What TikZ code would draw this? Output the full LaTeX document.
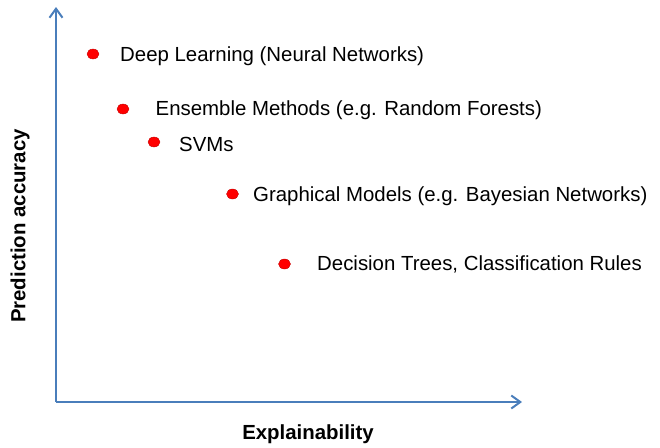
\documentclass[tikz,border=0pt]{standalone}
\usepackage{fontspec}
\setmainfont{Liberation Sans}
\usetikzlibrary{arrows.meta,shapes.geometric}
\definecolor{axisblue}{HTML}{4A7EBB}
\definecolor{dotred}{HTML}{FF0000}
\definecolor{dotedge}{HTML}{C00000}
\tikzset{
  axisline/.style={draw=axisblue, line width=2pt, -{Straight Barb[length=9pt,width=13pt,line width=2pt]}},
  dotnode/.style={shape=ellipse, fill=dotred, draw=dotedge, line width=0.4pt, minimum width=12pt, minimum height=10pt, inner sep=0pt},
  itemtext/.style={anchor=base west, inner sep=0pt, font=\fontsize{20.4}{24}\selectfont},
  axislabel/.style={inner sep=0pt, font=\fontsize{20.4}{24}\selectfont\bfseries}
}
\begin{document}
\begin{tikzpicture}[x=1pt,y=-1pt]
\useasboundingbox (0,0) rectangle (660,447);
% axes
\coordinate (origin) at (56,402);
\coordinate (ytip) at (56,7);
\coordinate (xtip) at (522,402);
\draw[axisline] (origin) -- (ytip);
\draw[axisline] (origin) -- (xtip);
% axis labels
\node[axislabel, rotate=90] (ylab) at (20,226) {Prediction accuracy};
\node[axislabel] (xlab) at (308,434) {Explainability};
% dots
\node[dotnode] (d1) at (93,54) {};
\node[dotnode] (d2) at (123,109) {};
\node[dotnode] (d3) at (154,142) {};
\node[dotnode] (d4) at (232.5,194) {};
\node[dotnode] (d5) at (284.5,264) {};
% texts
\node[itemtext] (t1) at (120,61) {Deep Learning (Neural Networks)};
\node[itemtext] (t2) at (155.5,115) {Ensemble Methods (e.g. Random Forests)};
\node[itemtext] (t3) at (179,151.5) {SVMs};
\node[itemtext] (t4) at (253,201.5) {Graphical Models (e.g. Bayesian Networks)};
\node[itemtext] (t5) at (317,270.5) {Decision Trees, Classification Rules};
\end{tikzpicture}
\end{document}
